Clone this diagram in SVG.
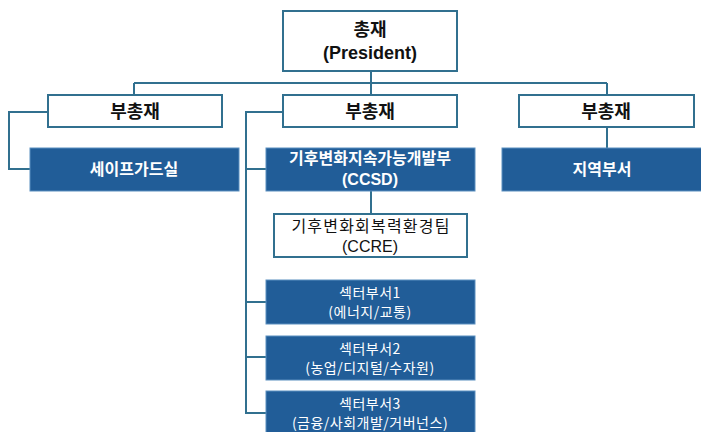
<svg xmlns="http://www.w3.org/2000/svg" width="701" height="432" viewBox="0 0 701 432">
<style>
.w{fill:#fff;stroke:#31708f;stroke-width:2}
.b{fill:#215d98;stroke:#5b8fbf;stroke-width:1}
.c{fill:none;stroke:#31708f;stroke-width:2}
text{font-family:"Noto Sans CJK KR","Noto Sans",sans-serif;text-anchor:middle}
.lat{font-family:"Liberation Sans",Arial,sans-serif}
.hd{font-size:18px;font-weight:bold;fill:#111}
.wb{font-size:16px;font-weight:bold;fill:#fff}
.wn{font-size:14px;fill:#fff;letter-spacing:0.5px}
.dn{font-size:16px;fill:#111}
.sp{letter-spacing:1.2px}
</style>
<rect width="701" height="432" fill="#fff"/>
<g id="connectors">
<path class="c" d="M371 71V95M134 83H607M134 83V95M607 83V95M607 127V148"/>
<path class="c" d="M48 112H9V169H30"/>
<path class="c" d="M283 112H246V413H266M246 169H266M246 302H266M246 357H266M371 191V214"/>
</g>
<g id="president"><rect class="w" x="283" y="11" width="174" height="60"/><text class="hd" x="370" y="36">총재</text><text class="hd lat" x="370" y="59">(President)</text></g>
<g id="vp1"><rect class="w" x="48" y="95" width="174" height="32"/><text class="hd" x="135" y="118">부총재</text></g>
<g id="vp2"><rect class="w" x="283" y="95" width="174" height="32"/><text class="hd" x="370" y="118">부총재</text></g>
<g id="vp3"><rect class="w" x="519" y="95" width="175" height="32"/><text class="hd" x="606" y="118">부총재</text></g>
<g id="safeguard"><rect class="b" x="30" y="148" width="209" height="43"/><text class="wb" x="134" y="175">세이프가드실</text></g>
<g id="ccsd"><rect class="b" x="266" y="148" width="209" height="43"/><text class="wb" x="370" y="164">기후변화지속가능개발부</text><text class="wb lat" x="370" y="185">(CCSD)</text></g>
<g id="regional"><rect class="b" x="502" y="148" width="205" height="43"/><text class="wb" x="602" y="175">지역부서</text></g>
<g id="ccre"><rect class="w" x="274" y="214" width="193" height="43"/><text class="dn sp" x="371" y="232">기후변화회복력환경팀</text><text class="dn lat" x="370" y="252">(CCRE)</text></g>
<g id="sector1"><rect class="b" x="266" y="280" width="209" height="44"/><text class="wn" x="370" y="298">섹터부서1</text><text class="wn" x="370" y="317">(에너지/교통)</text></g>
<g id="sector2"><rect class="b" x="266" y="336" width="209" height="44"/><text class="wn" x="370" y="354">섹터부서2</text><text class="wn" x="370" y="373">(농업/디지털/수자원)</text></g>
<g id="sector3"><rect class="b" x="266" y="391" width="209" height="45"/><text class="wn" x="370" y="409">섹터부서3</text><text class="wn" x="370" y="428">(금융/사회개발/거버넌스)</text></g>
</svg>
